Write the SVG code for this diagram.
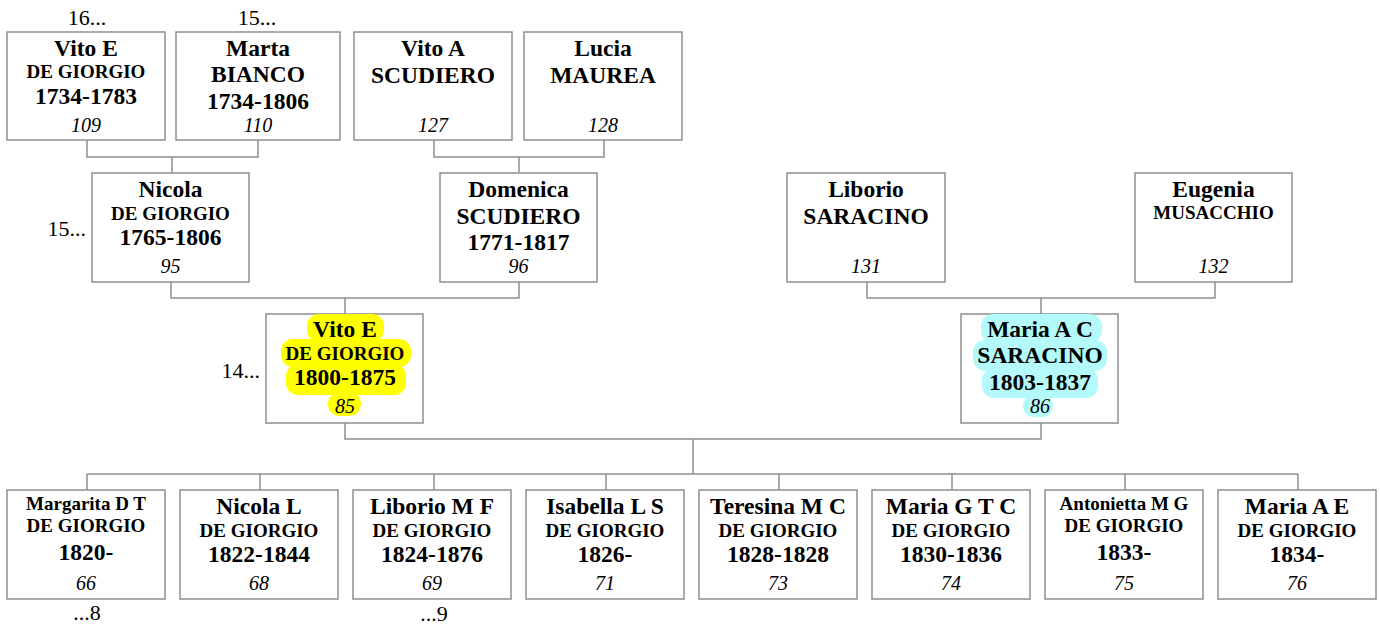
<svg xmlns="http://www.w3.org/2000/svg" width="1380" height="628" viewBox="0 0 1380 628">
<style>
.box{fill:#fff;stroke:#8f8f8f;stroke-width:1.5}
.con{fill:none;stroke:#8f8f8f;stroke-width:1.5}
text{font-family:"Liberation Serif","Times New Roman",serif;fill:#000;text-anchor:middle}
.nm{font-weight:bold;font-size:23.5px}
.sm{font-weight:bold;font-size:19px}
.yr{font-weight:bold;font-size:23.5px}
.no{font-style:italic;font-size:20px}
.lbl{font-size:22px}
.hy{fill:#ffff00}
.hc{fill:#b4fafa}
</style>
<rect width="1380" height="628" fill="#fff"/>
<g id="connectors">
<path class="con" d="M87 140V157H258V140M172 157V173"/>
<path class="con" d="M434 140V157H604V140M519 157V172"/>
<path class="con" d="M171 282V298H519V282M345 298V314"/>
<path class="con" d="M867 282V298H1215V282M1041 298V314"/>
<path class="con" d="M345 423V439H1041V423M693 439V474"/>
<path class="con" d="M87 474H1298M87 474V490M260 474V490M434 474V490M606 474V490M779 474V490M952 474V490M1125 474V490M1298 474V490"/>
</g>
<g id="n109">
<rect class="box" x="7" y="32" width="158" height="108"/>
<text class="lbl" x="87" y="25">16...</text>
<text class="nm" x="86" y="56">Vito E</text>
<text class="sm" x="86" y="78">DE GIORGIO</text>
<text class="yr" x="86" y="104">1734-1783</text>
<text class="no" x="86" y="132">109</text>
</g>
<g id="n110">
<rect class="box" x="176" y="32" width="164" height="108"/>
<text class="lbl" x="257" y="25">15...</text>
<text class="nm" x="258" y="56">Marta</text>
<text class="nm" x="258" y="82">BIANCO</text>
<text class="yr" x="258" y="109">1734-1806</text>
<text class="no" x="258" y="132">110</text>
</g>
<g id="n127">
<rect class="box" x="354" y="32" width="158" height="108"/>
<text class="nm" x="433" y="56">Vito A</text>
<text class="nm" x="433" y="83">SCUDIERO</text>
<text class="no" x="433" y="132">127</text>
</g>
<g id="n128">
<rect class="box" x="524" y="32" width="158" height="108"/>
<text class="nm" x="603" y="56">Lucia</text>
<text class="nm" x="603" y="83">MAUREA</text>
<text class="no" x="603" y="132">128</text>
</g>
<g id="n95">
<rect class="box" x="92" y="173" width="157" height="109"/>
<text class="lbl" x="86" y="236" style="text-anchor:end">15...</text>
<text class="nm" x="170.5" y="197">Nicola</text>
<text class="sm" x="170.5" y="220">DE GIORGIO</text>
<text class="yr" x="170.5" y="245">1765-1806</text>
<text class="no" x="170.5" y="273">95</text>
</g>
<g id="n96">
<rect class="box" x="440" y="173" width="157" height="109"/>
<text class="nm" x="518.5" y="197">Domenica</text>
<text class="nm" x="518.5" y="224">SCUDIERO</text>
<text class="yr" x="518.5" y="250">1771-1817</text>
<text class="no" x="518.5" y="273">96</text>
</g>
<g id="n131">
<rect class="box" x="787" y="173" width="158" height="109"/>
<text class="nm" x="866" y="197">Liborio</text>
<text class="nm" x="866" y="224">SARACINO</text>
<text class="no" x="866" y="273">131</text>
</g>
<g id="n132">
<rect class="box" x="1135" y="173" width="157" height="109"/>
<text class="nm" x="1213.5" y="197">Eugenia</text>
<text class="sm" x="1213.5" y="219">MUSACCHIO</text>
<text class="no" x="1213.5" y="273">132</text>
</g>
<g id="n85">
<rect class="box" x="266" y="314" width="157" height="109"/>
<text class="lbl" x="260" y="378" style="text-anchor:end">14...</text>
<rect class="hy" x="307" y="314" width="77" height="28" rx="12"/>
<rect class="hy" x="281" y="339" width="130" height="28" rx="12"/>
<rect class="hy" x="286" y="364" width="120" height="31" rx="12"/>
<rect class="hy" x="328" y="392" width="33" height="24" rx="12"/>
<text class="nm" x="345" y="337">Vito E</text>
<text class="sm" x="345" y="360">DE GIORGIO</text>
<text class="yr" x="345" y="385">1800-1875</text>
<text class="no" x="345" y="413">85</text>
</g>
<g id="n86">
<rect class="box" x="961" y="314" width="157" height="109"/>
<rect class="hc" x="981" y="314" width="121" height="29" rx="12"/>
<rect class="hc" x="973" y="340" width="134" height="31" rx="12"/>
<rect class="hc" x="982" y="368" width="116" height="30" rx="12"/>
<rect class="hc" x="1023" y="395" width="30" height="22" rx="11"/>
<text class="nm" x="1040" y="337">Maria A C</text>
<text class="nm" x="1040" y="363">SARACINO</text>
<text class="yr" x="1040" y="390">1803-1837</text>
<text class="no" x="1040" y="413">86</text>
</g>
<g id="n66">
<rect class="box" x="7" y="490" width="158" height="109"/>
<text class="sm" x="86" y="510">Margarita D T</text>
<text class="sm" x="86" y="532">DE GIORGIO</text>
<text class="yr" x="86" y="560">1820-</text>
<text class="no" x="86" y="590">66</text>
<text class="lbl" x="87" y="620">...8</text>
</g>
<g id="n68">
<rect class="box" x="180" y="490" width="158" height="109"/>
<text class="nm" x="259" y="514">Nicola L</text>
<text class="sm" x="259" y="537">DE GIORGIO</text>
<text class="yr" x="259" y="562">1822-1844</text>
<text class="no" x="259" y="590">68</text>
</g>
<g id="n69">
<rect class="box" x="353" y="490" width="158" height="109"/>
<text class="nm" x="432" y="514">Liborio M F</text>
<text class="sm" x="432" y="537">DE GIORGIO</text>
<text class="yr" x="432" y="562">1824-1876</text>
<text class="no" x="432" y="590">69</text>
<text class="lbl" x="434" y="621">...9</text>
</g>
<g id="n71">
<rect class="box" x="526" y="490" width="158" height="109"/>
<text class="nm" x="605" y="514">Isabella L S</text>
<text class="sm" x="605" y="537">DE GIORGIO</text>
<text class="yr" x="605" y="562">1826-</text>
<text class="no" x="605" y="590">71</text>
</g>
<g id="n73">
<rect class="box" x="699" y="490" width="158" height="109"/>
<text class="nm" x="778" y="514">Teresina M C</text>
<text class="sm" x="778" y="537">DE GIORGIO</text>
<text class="yr" x="778" y="562">1828-1828</text>
<text class="no" x="778" y="590">73</text>
</g>
<g id="n74">
<rect class="box" x="872" y="490" width="158" height="109"/>
<text class="nm" x="951" y="514">Maria G T C</text>
<text class="sm" x="951" y="537">DE GIORGIO</text>
<text class="yr" x="951" y="562">1830-1836</text>
<text class="no" x="951" y="590">74</text>
</g>
<g id="n75">
<rect class="box" x="1045" y="490" width="158" height="109"/>
<text class="sm" x="1124" y="510">Antonietta M G</text>
<text class="sm" x="1124" y="532">DE GIORGIO</text>
<text class="yr" x="1124" y="560">1833-</text>
<text class="no" x="1124" y="590">75</text>
</g>
<g id="n76">
<rect class="box" x="1218" y="490" width="158" height="109"/>
<text class="nm" x="1297" y="514">Maria A E</text>
<text class="sm" x="1297" y="537">DE GIORGIO</text>
<text class="yr" x="1297" y="562">1834-</text>
<text class="no" x="1297" y="590">76</text>
</g>
</svg>
